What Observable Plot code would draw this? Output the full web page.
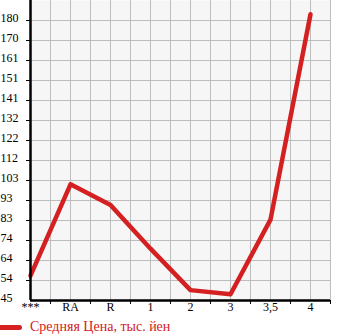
<!DOCTYPE html>
<html>
<head>
<meta charset="utf-8">
<script src="https://cdn.jsdelivr.net/npm/d3@7"></script>
<script src="https://cdn.jsdelivr.net/npm/@observablehq/plot@0.6"></script>
<style>
  html, body { margin: 0; padding: 0; background: #fff; }
  #wrap { position: relative; width: 345px; height: 335px; }
  #legend { position: absolute; left: 0; top: 319px; height: 16px; display: flex; align-items: center;
    font-family: "Liberation Serif", serif; font-size: 14px; color: #d42020; white-space: nowrap; }
  #legend .sw { width: 22px; height: 5px; background: #d42020; border-radius: 0 3px 3px 0; margin-right: 8px; }
</style>
</head>
<body>
<div id="wrap"><div id="chart"></div><div id="legend"><span class="sw"></span><span>Средняя Цена, тыс. йен</span></div></div>
<script>
const categories = ["***", "RA", "R", "1", "2", "3", "3,5", "4"];
const values = [57, 101, 91, 70, 50, 48, 84, 183];
const yTickLabels = ["45", "54", "64", "74", "83", "93", "103", "112", "122", "132", "141", "151", "161", "170", "180"];
const yMin = 45, yMax = 180;

const yStep = (yMax - yMin) / (yTickLabels.length - 1);
const yTicks = yTickLabels.map((_, i) => yMin + i * yStep);
const data = categories.map((c, i) => ({i, c, v: values[i]}));
const idx = categories.map((_, i) => i);
const halves = idx.map(i => i + 0.5);
const xGrid = idx.flatMap(i => [i, i + 0.5]).filter(v => v > 0);
const color = "#d42020";
const xEnd = categories.length - 0.5;

const chart = Plot.plot({
  width: 345, height: 314,
  marginLeft: 30, marginRight: 15, marginTop: 0, marginBottom: 14,
  style: {fontFamily: "Liberation Serif, serif", fontSize: "12px", background: "transparent"},
  x: {type: "linear", domain: [0, xEnd], axis: null},
  y: {domain: [yMin, yMin + yStep * yTickLabels.length], axis: null},
  marks: [
    Plot.frame({fill: "#f6f6f6", stroke: null}),
    Plot.ruleY(yTicks.slice(1), {stroke: "#bdbdbd", strokeOpacity: 1, strokeWidth: 1}),
    Plot.ruleX(xGrid, {stroke: "#bdbdbd", strokeOpacity: 1, strokeWidth: 1}),
    Plot.line(data, {x: "i", y: "v", stroke: color, strokeWidth: 4.5, strokeLinecap: "round", strokeLinejoin: "round"}),
    Plot.ruleX([0], {stroke: "black", strokeWidth: 2.5}),
    Plot.ruleY([yMin], {stroke: "black", strokeWidth: 2.5, x1: 0, x2: xEnd}),
    Plot.ruleY(yTicks.slice(1), {x1: -0.1, x2: 0, stroke: "black", strokeWidth: 1}),
    Plot.text(yTicks, {y: d => d, text: (d, i) => yTickLabels[i], frameAnchor: "left", dx: -30, textAnchor: "start", lineAnchor: "bottom", dy: 1, fill: "black"}),
    Plot.axisX(halves, {tickSize: 4, tickFormat: () => "", stroke: "black", label: null}),
    Plot.axisX(idx, {tickSize: 0, tickPadding: 2, tickFormat: i => categories[i], fill: "black", label: null})
  ]
});
document.getElementById("chart").appendChild(chart);
</script>
</body>
</html>
